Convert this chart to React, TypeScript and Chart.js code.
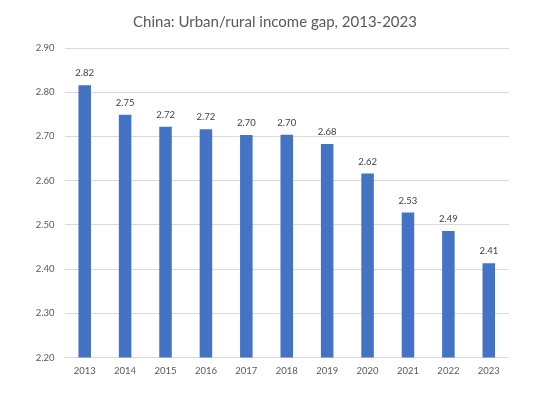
import React, { useEffect, useRef } from "react";
import { Chart, registerables } from "chart.js";

Chart.register(...registerables);

const years = ["2013", "2014", "2015", "2016", "2017", "2018", "2019", "2020", "2021", "2022", "2023"];
const ratio = [2.816, 2.749, 2.722, 2.716, 2.703, 2.704, 2.683, 2.616, 2.528, 2.486, 2.413];
const titleText = "China: Urban/rural income gap, 2013-2023";

const FONT = "Lato, 'Open Sans', sans-serif";

const valueLabels = {
  id: "valueLabels",
  afterDatasetsDraw(chart: any) {
    const ctx = chart.ctx;
    const meta = chart.getDatasetMeta(0);
    ctx.save();
    ctx.font = `9.5px ${FONT}`;
    ctx.fillStyle = "#404040";
    ctx.textAlign = "center";
    ctx.textBaseline = "middle";
    meta.data.forEach((bar: any, i: number) => {
      const v = chart.data.datasets[0].data[i] as number;
      ctx.fillText(v.toFixed(2), bar.x, bar.y - 12);
    });
    ctx.restore();
  },
};

export default function App() {
  const ref = useRef<HTMLCanvasElement>(null);
  useEffect(() => {
    document.body.style.margin = "0";
    const chart = new Chart(ref.current!, {
      type: "bar",
      data: {
        labels: years,
        datasets: [
          {
            data: ratio,
            backgroundColor: "#4472C4",
            borderWidth: 0,
            barPercentage: 0.31,
            categoryPercentage: 1,
          },
        ],
      },
      options: {
        animation: false,
        responsive: false,
        layout: { padding: 0 },
        plugins: {
          legend: { display: false },
          tooltip: { enabled: false },
          title: {
            display: true,
            text: titleText,
            color: "#595959",
            font: { family: FONT, size: 15, weight: "normal" },
            padding: { top: 13, bottom: 17 },
          },
        },
        scales: {
          x: {
            grid: { display: false, drawTicks: false },
            border: { display: false },
            ticks: { color: "#595959", font: { family: FONT, size: 9.5 }, padding: 8 },
            afterFit(scale: any) {
              scale.height = 42.5;
            },
          },
          y: {
            min: 2.2,
            max: 2.9,
            grid: { color: "#d9d9d9", lineWidth: 1, drawTicks: false },
            border: { display: false },
            ticks: {
              stepSize: 0.1,
              color: "#595959",
              font: { family: FONT, size: 9.5 },
              padding: 10,
              callback: (v: any) => Number(v).toFixed(2),
            },
            afterFit(scale: any) {
              scale.width = 64.5;
            },
          },
          yRight: {
            position: "right",
            min: 2.2,
            max: 2.9,
            grid: { display: false, drawTicks: false },
            border: { display: false },
            ticks: { display: false },
            afterFit(scale: any) {
              scale.width = 41;
            },
          },
        },
      },
      plugins: [valueLabels],
    });
    return () => chart.destroy();
  }, []);
  return (
    <div style={{ width: 550, height: 400, background: "#fff" }}>
      <canvas ref={ref} width={550} height={400} />
    </div>
  );
}
